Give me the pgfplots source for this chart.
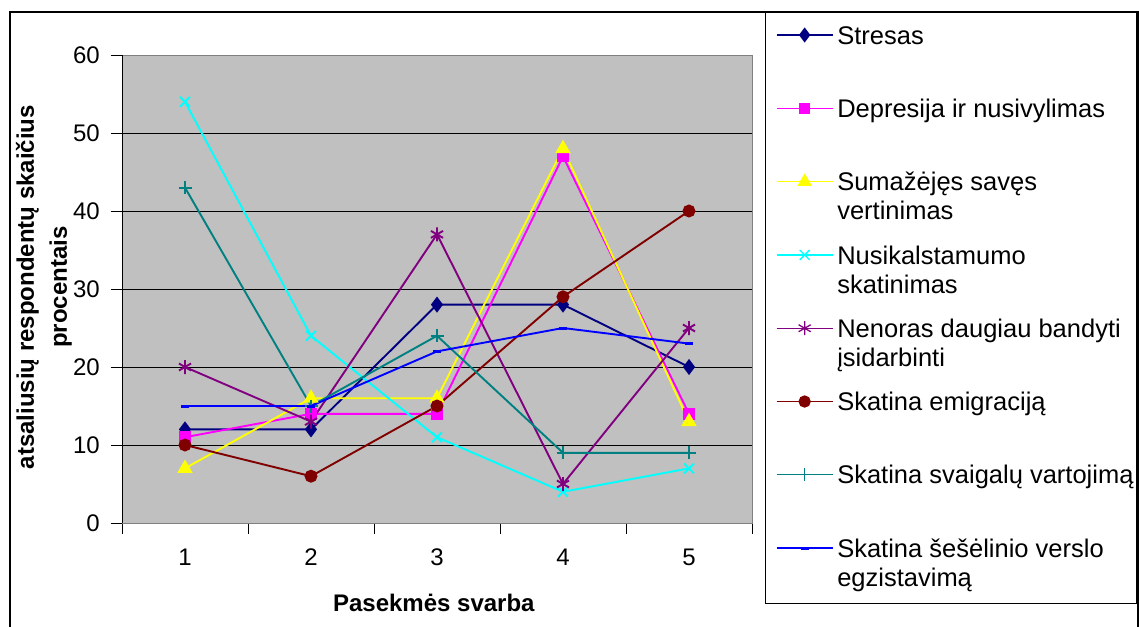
\documentclass[border=0pt]{standalone}
\usepackage{pgfplots}
\pgfplotsset{compat=1.18}
\usepackage{fontspec}
\setmainfont{Liberation Sans}

\definecolor{silver}{HTML}{C0C0C0}
\definecolor{cStres}{HTML}{000080}
\definecolor{cDepr}{HTML}{FF00FF}
\definecolor{cSav}{HTML}{FFFF00}
\definecolor{cNusi}{HTML}{00FFFF}
\definecolor{cNen}{HTML}{800080}
\definecolor{cEmig}{HTML}{800000}
\definecolor{cSvaig}{HTML}{008080}
\definecolor{cSes}{HTML}{0000FF}

% legend cell: first line centred on the marker, fixed row height
\newcommand{\lgtext}[1]{\raisebox{0pt}[45.75bp][27.55bp]{\hspace*{4bp}\parbox[t]{300bp}{\raggedright #1}}}

\begin{document}
\begin{tikzpicture}
\begin{axis}[
  at={(122bp,104bp)}, anchor=south west,
  scale only axis, width=630bp, height=468bp,
  xmin=0.5, xmax=5.5, ymin=0, ymax=60,
  xtick={0.5,1.5,...,5.5}, xticklabels={},
  extra x ticks={1,2,3,4,5}, extra x tick labels={1,2,3,4,5},
  extra x tick style={major tick length=0pt, xticklabel style={yshift=-22bp}},
  ytick={0,10,...,60},
  tick align=outside, tick pos=left, major tick length=11bp,
  tick style={black, line width=1bp},
  ymajorgrids, major grid style={black, line width=1bp},
  axis line style={draw=gray, line width=1bp},
  axis background/.style={fill=silver},
  tick label style={font=\fontsize{24bp}{28bp}\selectfont},
  yticklabel style={inner sep=0pt, xshift=-11bp},
  /pgf/number format/assume math mode=true,
  xlabel={Pasekmės svarba},
  ylabel={atsaliusių respondentų skaičius\\procentais},
  xlabel style={font=\bfseries\fontsize{24bp}{28bp}\selectfont,
    at={(axis description cs:0.495,-0.190)}, anchor=base},
  ylabel style={font=\bfseries\fontsize{24bp}{33bp}\selectfont,
    at={(axis description cs:-0.124,0.504)}, anchor=center, align=center},
  every axis plot/.append style={line width=1.9bp},
  legend cell align=left,
  legend image code/.code={\draw[mark repeat=2,mark phase=2,#1,line width=1.3bp] plot coordinates {(0bp,0bp) (28bp,0bp) (56bp,0bp)};},
  legend style={at={(1.0381,1.1210)}, anchor=north west, draw=none, fill=none,
    inner sep=0pt, outer sep=0pt, row sep=0pt, column sep=0pt,
    nodes={inner sep=0pt, outer sep=0pt, text depth=, text height=},
    font=\fontsize{25.5bp}{29bp}\selectfont},
]
\addplot[cStres, mark=diamond*, mark size=6.5bp] coordinates {(1,12) (2,12) (3,28) (4,28) (5,20)};
\addlegendentry{\lgtext{Stresas}}
\addplot[cDepr, mark=square*, mark size=5bp] coordinates {(1,11) (2,14) (3,14) (4,47) (5,14)};
\addlegendentry{\lgtext{Depresija ir nusivylimas}}
\addplot[cSav, mark=triangle*, mark size=7bp] coordinates {(1,7) (2,16) (3,16) (4,48) (5,13)};
\addlegendentry{\lgtext{Sumažėjęs savęs\\vertinimas}}
\addplot[cNusi, mark=x, mark size=7bp] coordinates {(1,54) (2,24) (3,11) (4,4) (5,7)};
\addlegendentry{\lgtext{Nusikalstamumo\\skatinimas}}
\addplot[cNen, mark=asterisk, mark size=7bp] coordinates {(1,20) (2,13) (3,37) (4,5) (5,25)};
\addlegendentry{\lgtext{Nenoras daugiau bandyti\\įsidarbinti}}
\addplot[cEmig, mark=*, mark size=5.5bp] coordinates {(1,10) (2,6) (3,15) (4,29) (5,40)};
\addlegendentry{\lgtext{Skatina emigraciją}}
\addplot[cSvaig, mark=+, mark size=6.5bp] coordinates {(1,43) (2,15) (3,24) (4,9) (5,9)};
\addlegendentry{\lgtext{Skatina svaigalų vartojimą}}
\addplot[cSes, mark=-, mark size=4bp, mark options={line width=3bp}] coordinates {(1,15) (2,15) (3,22) (4,25) (5,23)};
\addlegendentry{\lgtext{Skatina šešėlinio verslo\\egzistavimą}}
\draw[black, line width=1bp] (rel axis cs:0,1) -- (rel axis cs:0,0) -- (rel axis cs:1,0);
\end{axis}
% chart frame and legend box
\draw[black, line width=1.5bp] (10bp,0bp) -- (10bp,615bp) -- (1138bp,615bp) -- (1138bp,0bp);
\draw[black, line width=1bp] (765bp,23bp) rectangle (1136bp,615bp);
\pgfresetboundingbox
\path (0bp,0bp) rectangle (1139bp,627bp);
\end{tikzpicture}
\end{document}
